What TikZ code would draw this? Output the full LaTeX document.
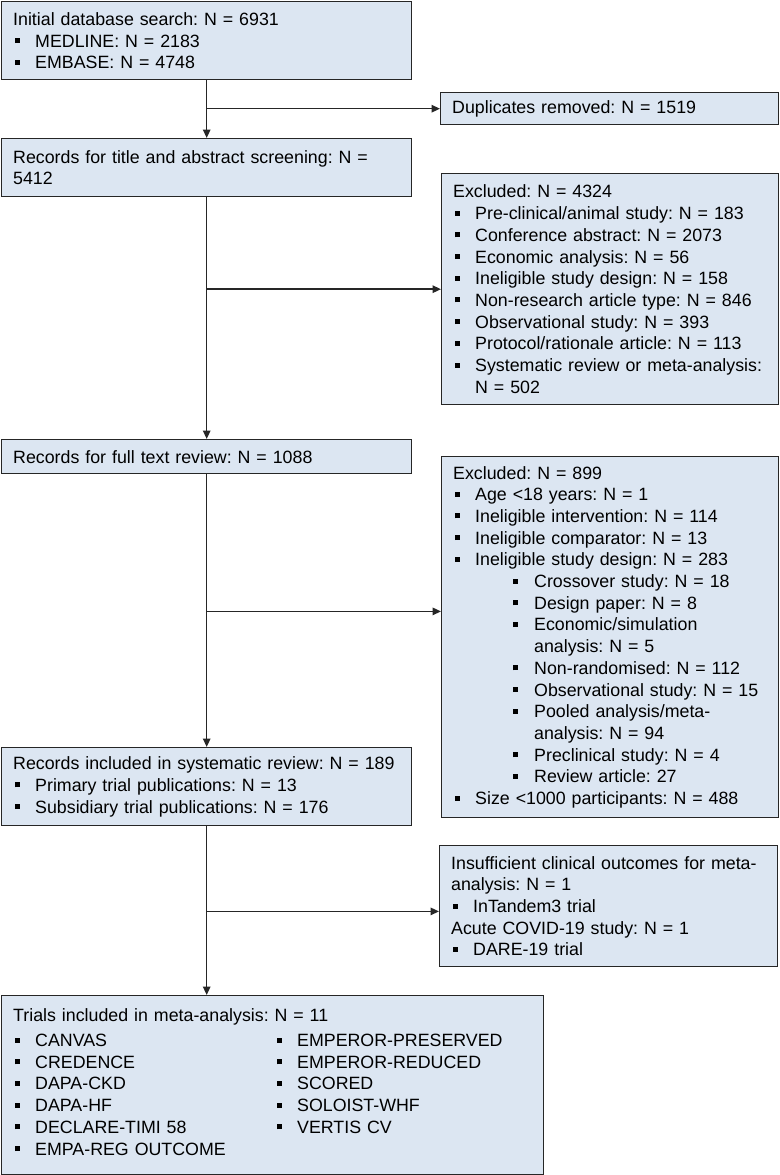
\documentclass[tikz,border=0pt]{standalone}
\usepackage{fontspec}
\setmainfont{Liberation Sans}
\usetikzlibrary{arrows.meta}
\frenchspacing
\definecolor{boxfill}{HTML}{DCE6F2}
\definecolor{boxline}{HTML}{262626}
\newcommand{\bsq}{\rule[4pt]{5pt}{5pt}}
\newcommand{\itm}[1]{\makebox[22pt][l]{\hspace{1.5pt}\bsq}#1}
\newcommand{\subitm}[1]{\hspace*{59pt}\makebox[22pt][l]{\hspace{1pt}\bsq}#1}
\tikzset{
  box/.style={draw=boxline, line width=1.4pt, fill=boxfill, anchor=north west,
    align=left, inner xsep=11.5pt, inner ysep=0pt,
    font=\fontsize{17.8}{21.7}\selectfont},
  link/.style={draw=boxline, line width=1.5pt, -{Triangle[length=8.5pt,width=7.5pt]}}
}
\begin{document}
\begin{tikzpicture}[x=1pt,y=1pt]
  \useasboundingbox (0,0) rectangle (779,-1175);
  % main column
  \node[box, text width=387pt, minimum height=78pt] (search) at (1,-1)
    {Initial database search: N = 6931\\
     \itm{MEDLINE: N = 2183}\\
     \itm{EMBASE: N = 4748}};
  \node[box, text width=387pt, minimum height=58pt] (screen) at (1,-138)
    {Records for title and abstract screening: N =\\ 5412};
  \node[box, text width=387pt, minimum height=34pt] (fulltext) at (1,-439)
    {Records for full text review: N = 1088};
  \node[box, text width=387pt, minimum height=78pt] (review) at (1,-747)
    {Records included in systematic review: N = 189\\
     \itm{Primary trial publications: N = 13}\\
     \itm{Subsidiary trial publications: N = 176}};
  \node[box, text width=519pt, minimum height=179pt] (trials) at (1,-995)
    {Trials included in meta-analysis: N = 11\\[5pt]
     \begin{tabular}{@{}p{262pt}@{}l@{}}
       \itm{CANVAS} & \itm{EMPEROR-PRESERVED}\\
       \itm{CREDENCE} & \itm{EMPEROR-REDUCED}\\
       \itm{DAPA-CKD} & \itm{SCORED}\\
       \itm{DAPA-HF} & \itm{SOLOIST-WHF}\\
       \itm{DECLARE-TIMI 58} & \itm{VERTIS CV}\\
       \itm{EMPA-REG OUTCOME} & \\
     \end{tabular}};
  % side column
  \node[box, text width=315pt, minimum height=32pt] (dupl) at (440,-92)
    {Duplicates removed: N = 1519};
  \node[box, text width=314pt, minimum height=231pt] (excl1) at (441,-173)
    {Excluded: N = 4324\\
     \itm{Pre-clinical/animal study: N = 183}\\
     \itm{Conference abstract: N = 2073}\\
     \itm{Economic analysis: N = 56}\\
     \itm{Ineligible study design: N = 158}\\
     \itm{Non-research article type: N = 846}\\
     \itm{Observational study: N = 393}\\
     \itm{Protocol/rationale article: N = 113}\\
     \itm{Systematic review or meta-analysis:}\\
     \hspace*{22pt}N = 502};
  \node[box, text width=314pt, minimum height=361pt] (excl2) at (441,-456)
    {Excluded: N = 899\\
     \itm{Age <18 years: N = 1}\\
     \itm{Ineligible intervention: N = 114}\\
     \itm{Ineligible comparator: N = 13}\\
     \itm{Ineligible study design: N = 283}\\
     \subitm{Crossover study: N = 18}\\
     \subitm{Design paper: N = 8}\\
     \subitm{Economic/simulation}\\
     \hspace*{81pt}analysis: N = 5\\
     \subitm{Non-randomised: N = 112}\\
     \subitm{Observational study: N = 15}\\
     \subitm{Pooled analysis/meta-}\\
     \hspace*{81pt}analysis: N = 94\\
     \subitm{Preclinical study: N = 4}\\
     \subitm{Review article: 27}\\
     \itm{Size <1000 participants: N = 488}};
  \node[box, text width=315pt, minimum height=121pt] (excl3) at (439,-845)
    {Insufficient clinical outcomes for meta-\\
     analysis: N = 1\\
     \itm{InTandem3 trial}\\
     Acute COVID-19 study: N = 1\\
     \itm{DARE-19 trial}};
  % junctions on the main line
  \coordinate (j1) at (search.south |- dupl.west);
  \coordinate (j2) at (screen.south |- excl1.west);
  \path (fulltext.south) ++(0,-137) coordinate (j3);
  \path (review.south) ++(0,-85) coordinate (j4);
  % connectors
  \draw[link] (search) -- (screen);
  \draw[link] (screen) -- (fulltext);
  \draw[link] (fulltext) -- (review);
  \draw[link] (review.south) -- (review.south |- trials.north);
  \draw[link] (j1) -- (dupl.west);
  \draw[link] (j2) -- (excl1.west);
  \draw[link] (j3) -- (j3 -| excl2.west);
  \draw[link] (j4) -- (j4 -| excl3.west);
\end{tikzpicture}
\end{document}
